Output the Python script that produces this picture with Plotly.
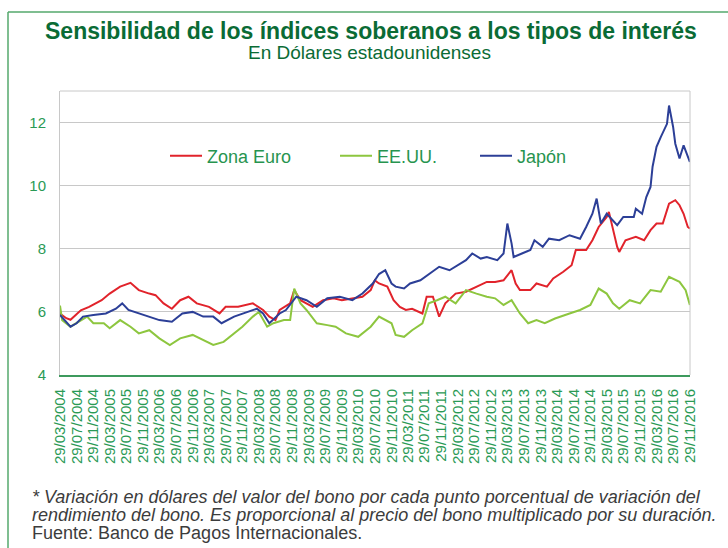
import plotly.graph_objects as go
import pandas as pd

# ---------------- data ----------------
ze_dates = ["2004-03-28","2004-05-13","2004-06-13","2004-08-28","2004-10-28","2005-01-28","2005-03-28",
            "2005-06-13","2005-08-28","2005-10-28","2006-01-13","2006-02-28","2006-04-28","2006-06-28",
            "2006-08-28","2006-10-28","2006-12-28","2007-03-28","2007-06-13","2007-07-28","2007-10-28",
            "2008-02-13","2008-04-28","2008-06-13","2008-07-28","2008-08-28","2008-11-13","2008-12-13",
            "2009-01-28","2009-04-28","2009-07-13","2009-09-28","2009-11-28","2010-02-13","2010-04-28",
            "2010-06-28","2010-07-28","2010-08-28","2010-10-28","2010-12-13","2011-01-28","2011-03-13",
            "2011-04-28","2011-07-13","2011-08-13","2011-09-28","2011-11-13","2011-12-28","2012-03-13",
            "2012-05-28","2012-08-13","2012-10-28","2012-12-28","2013-02-28","2013-04-28","2013-05-28",
            "2013-06-28","2013-09-13","2013-10-28","2014-01-13","2014-02-28","2014-05-13","2014-07-13",
            "2014-08-13","2014-10-28","2014-12-13","2015-01-28","2015-03-28","2015-04-13","2015-05-13",
            "2015-06-13","2015-06-28","2015-08-13","2015-10-28","2015-12-28","2016-02-13","2016-03-28",
            "2016-05-13","2016-06-28","2016-08-13","2016-09-13","2016-10-13","2016-11-13","2016-11-28"]
ze_vals = [5.95,5.80,5.75,6.05,6.16,6.37,6.58,
           6.80,6.92,6.69,6.58,6.53,6.27,6.10,
           6.37,6.48,6.27,6.16,5.95,6.16,6.16,
           6.27,6.06,5.85,5.74,6.06,6.27,6.69,
           6.37,6.16,6.37,6.43,6.37,6.43,6.48,
           6.69,7.00,6.90,6.80,6.37,6.16,6.06,
           6.10,5.95,6.48,6.48,5.85,6.27,6.58,
           6.64,6.80,6.95,6.95,7.00,7.32,6.90,
           6.69,6.69,6.90,6.80,7.06,7.27,7.48,
           7.96,7.96,8.27,8.69,9.01,9.17,8.59,
           8.06,7.90,8.27,8.38,8.27,8.59,8.80,
           8.80,9.43,9.54,9.38,9.11,8.69,8.64]

us_dates = ["2004-03-28","2004-04-13","2004-06-13","2004-08-28","2004-10-13","2004-11-28","2005-02-13",
            "2005-03-28","2005-06-13","2005-08-28","2005-10-28","2006-01-13","2006-03-28","2006-06-13",
            "2006-08-28","2006-11-28","2007-02-13","2007-04-28","2007-07-13","2007-09-28","2007-11-28",
            "2008-02-13","2008-03-28","2008-05-28","2008-07-13","2008-09-28","2008-11-13","2008-12-13",
            "2009-01-28","2009-03-13","2009-05-28","2009-08-13","2009-10-13","2009-12-28","2010-03-28",
            "2010-06-28","2010-08-28","2010-11-28","2010-12-28","2011-02-28","2011-04-28","2011-07-13",
            "2011-08-28","2011-10-28","2011-12-28","2012-03-13","2012-05-28","2012-08-13","2012-10-28",
            "2012-12-28","2013-02-28","2013-04-28","2013-06-28","2013-08-28","2013-10-28","2013-12-28",
            "2014-03-13","2014-06-28","2014-09-13","2014-11-28","2015-01-28","2015-03-28","2015-05-13",
            "2015-06-28","2015-09-13","2015-11-28","2016-02-13","2016-04-28","2016-06-28","2016-09-13",
            "2016-10-28","2016-11-28"]
us_vals = [6.20,5.74,5.53,5.74,5.85,5.64,5.64,
           5.48,5.74,5.53,5.32,5.42,5.16,4.95,
           5.16,5.27,5.10,4.95,5.05,5.32,5.53,
           5.85,6.00,5.53,5.64,5.74,5.74,6.74,
           6.27,6.06,5.64,5.58,5.53,5.32,5.21,
           5.53,5.85,5.64,5.27,5.21,5.42,5.64,
           6.27,6.37,6.48,6.27,6.69,6.58,6.48,
           6.43,6.22,6.37,5.95,5.64,5.74,5.64,
           5.79,5.95,6.06,6.22,6.74,6.58,6.27,
           6.10,6.37,6.27,6.69,6.64,7.11,6.95,
           6.69,6.22]

jp_dates = ["2004-03-28","2004-06-13","2004-07-28","2004-09-13","2004-11-28","2005-02-28","2005-05-13",
            "2005-06-28","2005-08-13","2005-10-28","2006-01-13","2006-03-28","2006-06-28","2006-09-13",
            "2006-11-28","2007-02-13","2007-04-28","2007-06-28","2007-09-28","2007-11-28","2008-03-13",
            "2008-04-28","2008-06-13","2008-08-28","2008-10-13","2008-12-28","2009-03-13","2009-05-28",
            "2009-08-13","2009-11-13","2010-02-13","2010-04-28","2010-07-13","2010-08-28","2010-10-13",
            "2010-11-28","2010-12-28","2011-02-28","2011-04-13","2011-06-28","2011-08-28","2011-11-13",
            "2012-01-28","2012-04-13","2012-05-28","2012-07-13","2012-09-13","2012-10-28","2013-01-13",
            "2013-02-28","2013-03-28","2013-04-28","2013-05-13","2013-07-13","2013-09-13","2013-10-13",
            "2013-12-13","2014-01-28","2014-04-13","2014-06-28","2014-09-13","2014-10-28","2014-12-13",
            "2015-01-13","2015-02-13","2015-03-28","2015-05-13","2015-06-13","2015-07-28","2015-10-13",
            "2015-10-28","2015-12-13","2016-01-13","2016-02-13","2016-02-28","2016-03-28","2016-04-28",
            "2016-06-13","2016-06-28","2016-07-28","2016-08-13","2016-09-13","2016-10-13","2016-10-28",
            "2016-11-28"]
jp_vals = [5.90,5.53,5.64,5.85,5.90,5.95,6.10,
           6.27,6.06,5.95,5.85,5.74,5.69,5.95,
           6.00,5.85,5.85,5.64,5.85,5.95,6.10,
           5.95,5.64,5.95,6.06,6.48,6.37,6.16,
           6.43,6.48,6.37,6.58,6.90,7.20,7.32,
           6.90,6.80,6.74,6.90,7.00,7.20,7.43,
           7.32,7.53,7.64,7.85,7.69,7.74,7.64,
           7.85,8.80,8.17,7.74,7.85,7.96,8.27,
           8.06,8.32,8.27,8.43,8.32,8.69,9.11,
           9.59,8.80,9.11,8.90,8.75,9.01,9.01,
           9.27,9.11,9.64,9.96,10.60,11.23,11.54,
           11.96,12.54,11.86,11.33,10.86,11.28,11.12,
           10.75]

series_names = ["Zona Euro", "EE.UU.", "Japón"]
series_colors = ["#e1232b", "#8dc63f", "#2c3f97"]

y_ticks = [4, 6, 8, 10, 12]
x_tick_dates = [d + pd.Timedelta(days=28) for d in pd.date_range("2004-03-01", "2016-11-01", freq="4MS")]

title_text = "Sensibilidad de los índices soberanos a los tipos de interés"
subtitle_text = "En Dólares estadounidenses"
note_lines = ["* Variación en dólares del valor del bono por cada punto porcentual de variación del",
              "rendimiento del bono. Es proporcional al precio del bono multiplicado por su duración."]
source_text = "Fuente: Banco de Pagos Internacionales."

# ---------------- figure ----------------
W, H = 728, 548
L, R, T, B = 60, 38, 91, 173
pw, ph = W - L - R, H - T - B

def px_x(px):
    return (px - L) / pw

def px_y(py):
    return (H - B - py) / ph

legend_ids = ["legend", "legend2", "legend3"]
legend_left = [165, 335, 475]

fig = go.Figure()
for name, col, xs, ys, lid in zip(series_names, series_colors,
                                  [ze_dates, us_dates, jp_dates], [ze_vals, us_vals, jp_vals], legend_ids):
    fig.add_trace(go.Scatter(x=xs, y=ys, mode="lines", name=name, legend=lid,
                             line=dict(color=col, width=2)))

tick_green = "#2a9a55"
sans = "Liberation Sans, Arial, sans-serif"
legend_style = dict(orientation="h", xanchor="left", yanchor="middle",
                    font=dict(family=sans, size=18, color="#27944f"),
                    bgcolor="rgba(0,0,0,0)", itemwidth=32)
legends = {}
for lid, lx in zip(legend_ids, legend_left):
    legends[lid] = dict(legend_style, x=px_x(lx), y=px_y(156))

fig.update_layout(
    width=W, height=H,
    margin=dict(l=L, r=R, t=T, b=B, autoexpand=False),
    paper_bgcolor="white", plot_bgcolor="white",
    font=dict(family=sans, color=tick_green),
    showlegend=True,
    xaxis=dict(type="date", range=["2004-03-28", "2016-11-29"],
               tickvals=x_tick_dates, tickformat="%d/%m/%Y", tickangle=-90,
               tickfont=dict(size=15, color=tick_green), ticklabelstandoff=6,
               showgrid=False, showline=True, linecolor="#3d9a5d", linewidth=2,
               ticks="", mirror=False, zeroline=False),
    yaxis=dict(range=[4, 13], tickvals=y_ticks, showgrid=True, gridcolor="#c8c8c8", gridwidth=1,
               tickfont=dict(size=15, color=tick_green), ticks="", zeroline=False,
               showline=True, linecolor="#c8c8c8", linewidth=1, ticklabelstandoff=10),
    shapes=[
        dict(type="line", xref="paper", yref="paper", x0=1, x1=1, y0=0, y1=1,
             line=dict(color="#c8c8c8", width=1)),
        dict(type="line", xref="paper", yref="paper", x0=0, x1=1, y0=1, y1=1,
             line=dict(color="#c8c8c8", width=1)),
        dict(type="line", xref="paper", yref="paper", x0=px_x(8), x1=px_x(8), y0=px_y(560), y1=px_y(12),
             line=dict(color="#55a86c", width=1.5)),
        dict(type="line", xref="paper", yref="paper", x0=px_x(8), x1=px_x(740), y0=px_y(12), y1=px_y(12),
             line=dict(color="#55a86c", width=1.5)),
    ],
    **legends,
)

ann = []
ann.append(dict(text="<b>" + title_text + "</b>", x=px_x(371), y=px_y(31), xref="paper", yref="paper",
                xanchor="center", yanchor="middle", showarrow=False,
                font=dict(family=sans, size=23, color="#0a6b35")))
ann.append(dict(text=subtitle_text, x=px_x(369), y=px_y(53), xref="paper", yref="paper",
                xanchor="center", yanchor="middle", showarrow=False,
                font=dict(family=sans, size=19, color="#0a6b35")))
for i, line in enumerate(note_lines):
    ann.append(dict(text="<i>" + line + "</i>", x=px_x(30), y=px_y(497 + 18 * i), xref="paper", yref="paper",
                    xanchor="left", yanchor="middle", showarrow=False,
                    font=dict(family=sans, size=18, color="#3c3c3c")))
ann.append(dict(text=source_text, x=px_x(30), y=px_y(533), xref="paper", yref="paper",
                xanchor="left", yanchor="middle", showarrow=False,
                font=dict(family=sans, size=18, color="#3c3c3c")))
fig.update_layout(annotations=ann)

fig.write_html("out.html", config={"displayModeBar": False},
               post_script="document.body.style.margin='0';")
